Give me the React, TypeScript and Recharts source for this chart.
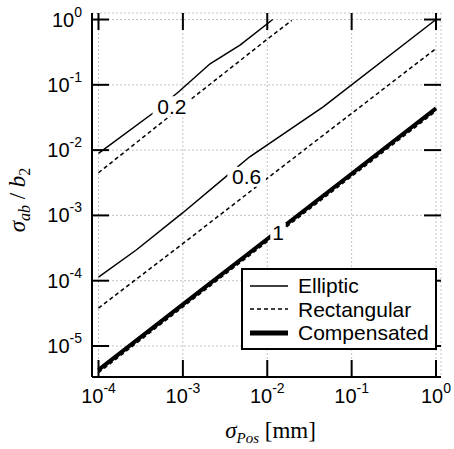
import { LineChart, Line, XAxis, YAxis, CartesianGrid, Legend, ReferenceDot, ReferenceLine } from 'recharts'

// decade ticks on both log axes
const xTicks = [1e-4, 1e-3, 1e-2, 1e-1, 1]
const yTicks = [1e-5, 1e-4, 1e-3, 1e-2, 1e-1, 1]
const xDomain = [8.375e-5, 1.1455]
const yDomain = [3.35e-6, 1.2589]

// ratio 0.2
const ellipticX02 = [1e-4, 4.7e-4, 9.2e-4, 2.1e-3, 4.8e-3, 0.0116]
const ellipticY02 = [0.0089, 0.039, 0.081, 0.21, 0.41, 1.0]
const rectX02 = [1e-4, 1e-3, 1e-2, 0.0195]
const rectY02 = [0.0045, 0.048, 0.5, 0.97]

// ratio 0.6
const ellipticX06 = [1e-4, 2.8e-4, 1e-3, 3.6e-3, 6.2e-3, 0.046, 1]
const ellipticY06 = [1.13e-4, 2.95e-4, 1.1e-3, 4.4e-3, 7.9e-3, 0.046, 1.0]
const rectX06 = [1e-4, 1e-3, 1e-2, 1e-1, 1]
const rectY06 = [3.8e-5, 3.7e-4, 3.7e-3, 0.0365, 0.36]

// ratio 1 (all three nearly coincide)
const x1 = [1e-4, 1e-3, 1e-2, 1e-1, 1]
const ellipticY1 = [4.4e-6, 4.4e-5, 4.4e-4, 4.4e-3, 0.044]
const rectY1 = [3.9e-6, 3.95e-5, 3.95e-4, 3.95e-3, 0.0395]
const compY = [4.3e-6, 4.35e-5, 4.35e-4, 4.35e-3, 0.0435]

// in-line curve labels
const curveLabels = ['0.2', '0.6', '1']
const labelX = [7.4e-4, 5.7e-3, 0.0134]
const labelY = [0.047, 3.9e-3, 5.4e-4]

const legendNames = ['Elliptic', 'Rectangular', 'Compensated']

const toPoints = (xs: number[], ys: number[]) => xs.map((x, i) => ({ x, y: ys[i] }))

const SANS = '"Liberation Sans", Arial, sans-serif'
const SERIF = '"Liberation Serif", "Times New Roman", serif'

// plot box in px
const W = 454
const H = 449
const PLOT_LEFT = 92
const PLOT_TOP = 13
const PLOT_RIGHT = 441
const PLOT_BOTTOM = 377

// inward tick length (~17px) expressed as a log-scale factor
const TICK_FX = Math.pow(10, 17 / 84.4)
const TICK_FY = Math.pow(10, 17 / 65.3)

function exponent(v: number) {
  return Math.round(Math.log10(v))
}

function BottomTick({ x, payload }: any) {
  return (
    <text x={x} y={PLOT_BOTTOM + 26} textAnchor="middle" fontSize={20} fontFamily={SANS} fill="#000">
      10<tspan dy={-10} fontSize={14}>{exponent(payload.value)}</tspan>
    </text>
  )
}

function LeftTick({ y, payload }: any) {
  return (
    <text x={PLOT_LEFT - 10} y={y + 7} textAnchor="end" fontSize={20} fontFamily={SANS} fill="#000">
      10<tspan dy={-10} fontSize={14}>{exponent(payload.value)}</tspan>
    </text>
  )
}

function CurveLabel({ cx, cy, text }: any) {
  const w = text.length * 11.5 + 4
  return (
    <g>
      <rect x={cx - w / 2} y={cy - 10} width={w} height={20} fill="#fff" />
      <text x={cx} y={cy + 7.5} textAnchor="middle" fontSize={21} fontFamily={SANS} fill="#000">
        {text}
      </text>
    </g>
  )
}

function XTitle({ viewBox }: any) {
  const cx = viewBox.x + viewBox.width / 2 + 4
  return (
    <text x={cx} y={PLOT_BOTTOM + 61} textAnchor="middle" fontSize={23} fontFamily={SERIF} fill="#000">
      <tspan fontStyle="italic">σ</tspan>
      <tspan fontStyle="italic" fontSize={15} dy={5}>Pos</tspan>
      <tspan dy={-5}> [mm]</tspan>
    </text>
  )
}

function YTitle({ viewBox }: any) {
  const cy = viewBox.y + viewBox.height / 2 + 5
  const bx = 25
  return (
    <text
      x={bx}
      y={cy}
      transform={`rotate(-90 ${bx} ${cy})`}
      textAnchor="middle"
      fontSize={23}
      fontFamily={SERIF}
      fill="#000"
    >
      <tspan fontStyle="italic">σ</tspan>
      <tspan fontStyle="italic" fontSize={16} dy={5}>ab</tspan>
      <tspan dy={-5}> / </tspan>
      <tspan fontStyle="italic">b</tspan>
      <tspan fontSize={16} dy={5}>2</tspan>
    </text>
  )
}

const legendStyles = [
  { width: 1.5, dash: undefined },
  { width: 1.5, dash: '4 3' },
  { width: 5, dash: undefined },
]

function LegendBox() {
  return (
    <div
      style={{
        boxSizing: 'border-box',
        width: 196,
        height: 82,
        border: '2px solid #000',
        background: '#fff',
        padding: '4px 0 0 7px',
        fontFamily: SANS,
        fontSize: 21,
        color: '#000',
      }}
    >
      {legendNames.map((name, i) => (
        <div key={name} style={{ display: 'flex', alignItems: 'center', height: 23.5 }}>
          <svg width={38} height={8} style={{ marginRight: 10 }}>
            <line
              x1={0}
              y1={4}
              x2={38}
              y2={4}
              stroke="#000"
              strokeWidth={legendStyles[i].width}
              strokeDasharray={legendStyles[i].dash}
            />
          </svg>
          <span style={{ lineHeight: '23px' }}>{name}</span>
        </div>
      ))}
    </div>
  )
}

export default function App() {
  const common = {
    dataKey: 'y',
    stroke: '#000',
    dot: false,
    isAnimationActive: false,
    legendType: 'none' as const,
  }
  const tickSeg = { stroke: '#000', strokeWidth: 2, ifOverflow: 'visible' as const }
  return (
    <div style={{ position: 'absolute', left: 0, top: 0 }}>
      <LineChart
        width={W}
        height={H}
        margin={{ top: PLOT_TOP, right: W - PLOT_RIGHT, bottom: 0, left: 0 }}
      >
        <CartesianGrid stroke="#c4c4c4" strokeDasharray="2 2" fill="none" />
        <XAxis
          dataKey="x"
          type="number"
          scale="log"
          domain={xDomain}
          allowDataOverflow
          ticks={xTicks}
          interval={0}
          height={H - PLOT_BOTTOM}
          tickSize={0}
          tickLine={false}
          axisLine={{ stroke: '#000', strokeWidth: 2 }}
          tick={<BottomTick />}
          label={<XTitle />}
        />
        <XAxis
          xAxisId="top"
          orientation="top"
          dataKey="x"
          type="number"
          scale="log"
          domain={xDomain}
          allowDataOverflow
          ticks={xTicks}
          height={0}
          tickLine={false}
          axisLine={{ stroke: '#000', strokeWidth: 2 }}
          tick={false}
        />
        <YAxis
          type="number"
          scale="log"
          domain={yDomain}
          allowDataOverflow
          ticks={yTicks}
          interval={0}
          width={PLOT_LEFT}
          tickSize={0}
          tickLine={false}
          axisLine={{ stroke: '#000', strokeWidth: 2 }}
          tick={<LeftTick />}
          label={<YTitle />}
        />
        <YAxis
          yAxisId="right"
          orientation="right"
          type="number"
          scale="log"
          domain={yDomain}
          allowDataOverflow
          ticks={yTicks}
          width={0}
          tickLine={false}
          axisLine={{ stroke: '#000', strokeWidth: 2 }}
          tick={false}
        />
        {/* inward tick marks on all four sides */}
        {xTicks.map((t) => (
          <ReferenceLine
            key={'b' + t}
            {...tickSeg}
            segment={[{ x: t, y: yDomain[0] }, { x: t, y: yDomain[0] * TICK_FY }]}
          />
        ))}
        {xTicks.map((t) => (
          <ReferenceLine
            key={'t' + t}
            {...tickSeg}
            segment={[{ x: t, y: yDomain[1] }, { x: t, y: yDomain[1] / TICK_FY }]}
          />
        ))}
        {yTicks.map((t) => (
          <ReferenceLine
            key={'l' + t}
            {...tickSeg}
            segment={[{ x: xDomain[0], y: t }, { x: xDomain[0] * TICK_FX, y: t }]}
          />
        ))}
        {yTicks.map((t) => (
          <ReferenceLine
            key={'r' + t}
            {...tickSeg}
            segment={[{ x: xDomain[1], y: t }, { x: xDomain[1] / TICK_FX, y: t }]}
          />
        ))}
        <Line {...common} data={toPoints(ellipticX02, ellipticY02)} strokeWidth={1.5} />
        <Line {...common} data={toPoints(rectX02, rectY02)} strokeWidth={1.5} strokeDasharray="4 3" />
        <Line {...common} data={toPoints(ellipticX06, ellipticY06)} strokeWidth={1.5} />
        <Line {...common} data={toPoints(rectX06, rectY06)} strokeWidth={1.5} strokeDasharray="4 3" />
        <Line {...common} data={toPoints(x1, rectY1)} strokeWidth={1.5} strokeDasharray="4 3" />
        <Line {...common} data={toPoints(x1, ellipticY1)} strokeWidth={1.5} />
        <Line {...common} data={toPoints(x1, compY)} strokeWidth={4} />
        {curveLabels.map((t, i) => (
          <ReferenceDot
            key={t}
            x={labelX[i]}
            y={labelY[i]}
            r={0}
            shape={(p: any) => <CurveLabel cx={p.cx} cy={p.cy} text={t} />}
          />
        ))}
        <Legend
          layout="vertical"
          align="center"
          verticalAlign="middle"
          wrapperStyle={{ left: 241, top: 268, width: 196, height: 82 }}
          content={<LegendBox />}
        />
      </LineChart>
    </div>
  )
}
